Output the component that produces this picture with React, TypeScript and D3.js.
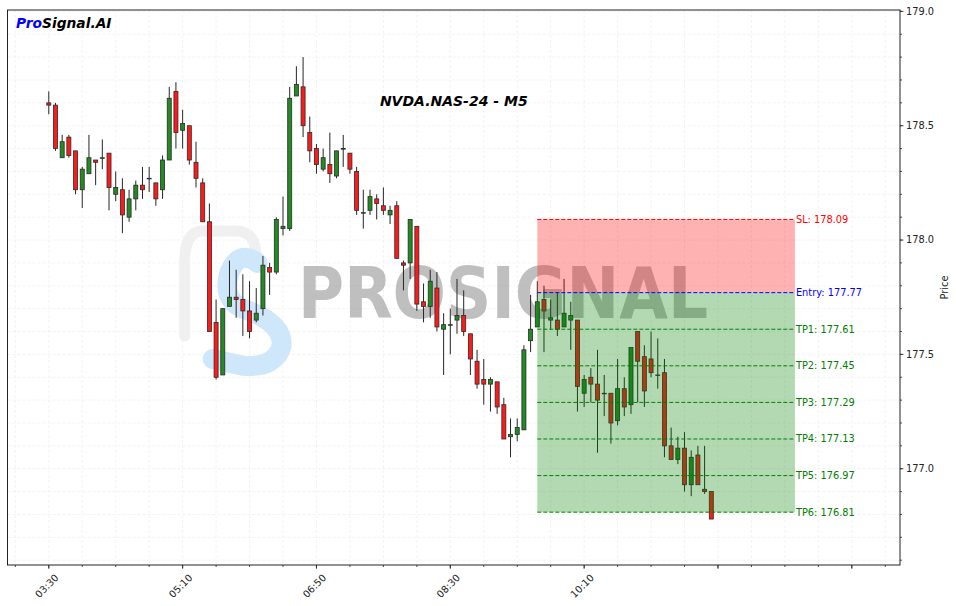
import React from 'react';
import * as d3 from 'd3';

const W = 956;
const H = 606;

const opens = [178.60,178.59,178.36,178.45,178.39,178.22,178.29,178.35,178.36,178.38,178.20,178.22,178.10,178.18,178.24,178.27,178.25,178.22,178.35,178.65,178.48,178.50,178.34,178.25,178.08,177.64,177.41,177.71,177.75,177.74,177.69,177.65,177.70,177.88,177.86,178.05,178.05,178.63,178.67,178.47,178.40,178.31,178.33,178.28,178.40,178.38,178.30,178.12,178.13,178.18,178.15,178.11,178.15,177.90,177.90,178.06,177.73,177.71,177.79,177.61,177.63,177.65,177.67,177.59,177.47,177.39,177.37,177.38,177.28,177.14,177.15,177.17,177.56,177.62,177.74,177.65,177.65,177.62,177.65,177.65,177.33,177.40,177.37,177.33,177.33,177.21,177.35,177.28,177.60,177.49,177.48,177.41,177.42,177.10,177.04,177.09,176.93,177.06,176.91,176.90];
const highs = [178.65,178.60,178.46,178.46,178.39,178.32,178.46,178.35,178.44,178.38,178.30,178.27,178.22,178.26,178.32,178.32,178.25,178.37,178.67,178.69,178.57,178.50,178.43,178.27,178.16,177.74,177.70,177.91,177.87,177.85,177.82,177.79,177.93,177.90,178.10,178.19,178.67,178.76,178.80,178.54,178.42,178.40,178.47,178.39,178.46,178.38,178.32,178.22,178.22,178.20,178.23,178.15,178.17,177.91,178.09,178.06,177.81,177.87,177.86,177.68,177.70,177.83,177.78,177.59,177.52,177.48,177.40,177.38,177.31,177.22,177.22,177.54,177.76,177.82,177.80,177.74,177.77,177.83,177.73,177.65,177.41,177.44,177.52,177.41,177.33,177.48,177.40,177.53,177.60,177.54,177.60,177.57,177.48,177.18,177.14,177.16,177.08,177.10,177.10,176.90];
const lows = [178.55,178.39,178.36,178.36,178.20,178.14,178.29,178.24,178.31,178.13,178.17,178.03,178.08,178.13,178.18,178.21,178.15,178.18,178.35,178.40,178.40,178.33,178.23,178.08,177.60,177.39,177.41,177.71,177.66,177.58,177.57,177.64,177.67,177.76,177.85,178.02,178.04,178.63,178.45,178.34,178.29,178.30,178.25,178.27,178.32,178.29,178.11,178.05,178.11,178.09,178.11,178.07,177.92,177.78,177.83,177.69,177.64,177.66,177.60,177.41,177.50,177.59,177.58,177.41,177.35,177.28,177.25,177.24,177.13,177.05,177.12,177.17,177.51,177.62,177.51,177.61,177.58,177.62,177.52,177.25,177.27,177.29,177.07,177.23,177.11,177.19,177.23,177.24,177.29,177.27,177.40,177.35,177.05,177.04,177.02,176.90,176.88,176.93,176.89,176.78];
const closes = [178.59,178.40,178.43,178.37,178.22,178.31,178.36,178.34,178.36,178.23,178.23,178.11,178.18,178.24,178.22,178.27,178.18,178.35,178.62,178.47,178.51,178.35,178.27,178.08,177.60,177.40,177.70,177.75,177.74,177.69,177.60,177.68,177.89,177.86,178.09,178.06,178.62,178.68,178.50,178.39,178.33,178.36,178.29,178.39,178.40,178.31,178.13,178.12,178.19,178.16,178.13,178.13,177.92,177.89,178.09,177.72,177.71,177.82,177.62,177.63,177.63,177.67,177.60,177.48,177.37,177.37,177.39,177.27,177.13,177.15,177.18,177.52,177.61,177.73,177.69,177.66,177.61,177.68,177.67,177.36,177.39,177.37,177.30,177.33,177.20,177.35,177.27,177.53,177.47,177.34,177.42,177.41,177.10,177.04,177.09,176.93,177.05,176.93,176.90,176.78];

const xTickIndex = [0, 20, 40, 60, 80];
const xTickLabels = ['03:30', '05:10', '06:50', '08:30', '10:10'];
const yTickValues = [177.0, 177.5, 178.0, 178.5, 179.0];

const levelNames = ['SL', 'Entry', 'TP1', 'TP2', 'TP3', 'TP4', 'TP5', 'TP6'];
const levelValues = [178.09, 177.77, 177.61, 177.45, 177.29, 177.13, 176.97, 176.81];
const levelColors = ['#ff0000', '#0000ff', '#008000', '#008000', '#008000', '#008000', '#008000', '#008000'];

const FONT = '"DejaVu Sans", Verdana, sans-serif';

export default function App() {
  const left = 7.5, right = 900, top = 10, bottom = 565;
  const x = d3.scaleLinear().domain([-6.17, 127.2]).range([left, right]);
  const y = d3.scaleLinear().domain([176.579, 179.006]).range([bottom, top]);

  const zoneStart = 73;
  const zoneEnd = 111.5;
  const bw = x(0.6) - x(0);

  const minorX = d3.range(-5, 126, 5);
  const majorX = d3.range(0, 121, 20);
  const gridY = d3.range(176.6, 179.001, 0.1);

  const xs = x(zoneStart), xe = x(zoneEnd);

  const sketchP = `M ${x(20.3)} ${y(177.58)} L ${x(20.3)} ${y(177.9)} Q ${x(20.3)} ${y(178.04)} ${x(23)} ${y(178.04)} L ${x(28)} ${y(178.04)} Q ${x(31)} ${y(178.04)} ${x(31)} ${y(177.92)}`;
  const sketchS = `M ${x(31.2)} ${y(177.9)} Q ${x(28.5)} ${y(177.96)} ${x(27)} ${y(177.86)} Q ${x(25.8)} ${y(177.74)} ${x(29)} ${y(177.7)} Q ${x(35)} ${y(177.64)} ${x(34.8)} ${y(177.54)} Q ${x(34)} ${y(177.44)} ${x(29)} ${y(177.45)} L ${x(24.5)} ${y(177.48)}`;

  return (
    <svg width={W} height={H} style={{ position: 'absolute', left: 0, top: 0, background: '#fff' }} fontFamily={FONT}>
      <rect x={0} y={0} width={W} height={H} fill="#fff" />
      {/* grid */}
      <g stroke="#eeeeee" strokeWidth={0.7} strokeDasharray="3,2">
        {minorX.map((i) => (
          <line key={'gx' + i} x1={x(i)} x2={x(i)} y1={top} y2={bottom} />
        ))}
        {gridY.map((v, k) => (
          <line key={'gy' + k} x1={left} x2={right} y1={y(v)} y2={y(v)} />
        ))}
      </g>
      {/* watermark */}
      <path d={sketchP} fill="none" stroke="#f0f0f0" strokeWidth={11} strokeLinecap="round" strokeLinejoin="round" />
      <path d={sketchS} fill="none" stroke="#cfe7fb" strokeWidth={20} strokeLinecap="round" strokeLinejoin="round" />
      <text x={298} y={318} fontSize={72} fontWeight="bold" fill="#8c8c8c" opacity={0.55} textLength={410} lengthAdjust="spacingAndGlyphs">PROSIGNAL</text>
      {/* candles */}
      {opens.map((o, i) => {
        const c = closes[i];
        const up = c >= o;
        const yt = y(Math.max(o, c));
        const yb = y(Math.min(o, c));
        return (
          <g key={'c' + i}>
            <line x1={x(i)} x2={x(i)} y1={y(highs[i])} y2={y(lows[i])} stroke="#262626" strokeWidth={1} />
            <rect x={x(i) - bw / 2} y={yt} width={bw} height={Math.max(yb - yt, 0.6)} fill={up ? '#228b22' : '#ff1a1a'} stroke="#2a2a2a" strokeWidth={0.8} />
          </g>
        );
      })}
      {/* zones */}
      <rect x={xs} y={y(levelValues[0])} width={xe - xs} height={y(levelValues[1]) - y(levelValues[0])} fill="#ff0000" opacity={0.3} />
      <rect x={xs} y={y(levelValues[1])} width={xe - xs} height={y(levelValues[7]) - y(levelValues[1])} fill="#008000" opacity={0.3} />
      {levelValues.map((v, k) => (
        <g key={'lv' + k}>
          <line x1={xs} x2={xe} y1={y(v)} y2={y(v)} stroke={levelColors[k]} strokeWidth={1} strokeDasharray="4,2" />
          <text x={xe + 1} y={y(v)} dy="0.35em" fontSize={9.8} fill={levelColors[k]}>{`${levelNames[k]}: ${v.toFixed(2)}`}</text>
        </g>
      ))}
      {/* frame */}
      <rect x={left} y={top} width={right - left} height={bottom - top} fill="none" stroke="#222" strokeWidth={1} />
      {/* x ticks */}
      {minorX.map((i) => (
        <line key={'mx' + i} x1={x(i)} x2={x(i)} y1={bottom} y2={bottom + (i % 20 === 0 ? 3.5 : 2)} stroke="#222" strokeWidth={0.8} />
      ))}
      {majorX.map((i) => (
        <line key={'Mx' + i} x1={x(i)} x2={x(i)} y1={bottom} y2={bottom + 3.5} stroke="#222" strokeWidth={0.8} />
      ))}
      {xTickIndex.map((i, k) => (
        <text key={'xl' + k} transform={`translate(${x(i) - 2},586) rotate(-45)`} textAnchor="middle" dy="0.35em" fontSize={9.8} fill="#222">{xTickLabels[k]}</text>
      ))}
      {/* y ticks */}
      {gridY.map((v, k) => (
        <line key={'my' + k} x1={right} x2={right + 2} y1={y(v)} y2={y(v)} stroke="#222" strokeWidth={0.8} />
      ))}
      {yTickValues.map((v, k) => (
        <g key={'yt' + k}>
          <line x1={right} x2={right + 3.5} y1={y(v)} y2={y(v)} stroke="#222" strokeWidth={0.8} />
          <text x={right + 6} y={y(v)} dy="0.35em" fontSize={9.8} fill="#222">{v.toFixed(1)}</text>
        </g>
      ))}
      <text transform={`translate(948,${(top + bottom) / 2}) rotate(-90)`} textAnchor="middle" fontSize={9.8} fill="#222">Price</text>
      {/* titles */}
      <text x={(left + right) / 2} y={106} textAnchor="middle" fontSize={14} fontWeight="bold" fontStyle="italic" fill="#000">NVDA.NAS-24 - M5</text>
      <text x={16} y={28} fontSize={13.8} fontWeight="bold" fontStyle="italic">
        <tspan fill="#0000ff">Pro</tspan>
        <tspan fill="#000">Signal.AI</tspan>
      </text>
    </svg>
  );
}
